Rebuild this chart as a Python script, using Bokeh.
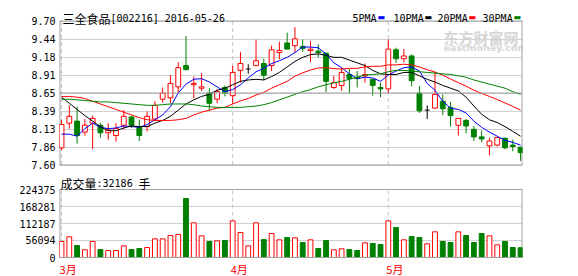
from bokeh.plotting import figure
from bokeh.layouts import column
from bokeh.models import Range1d, FixedTicker, Span, Label, ColumnDataSource
from bokeh.embed import file_html
from bokeh.resources import INLINE

# ---------------- data ----------------
stock_name = "三全食品"
stock_code = "002216"
dates = [
    "2016-03-02", "2016-03-03", "2016-03-04", "2016-03-07", "2016-03-08", "2016-03-09", "2016-03-10", "2016-03-11",
    "2016-03-14", "2016-03-15", "2016-03-16", "2016-03-17", "2016-03-18", "2016-03-21", "2016-03-22", "2016-03-23",
    "2016-03-24", "2016-03-25", "2016-03-28", "2016-03-29", "2016-03-30", "2016-03-31",
    "2016-04-01", "2016-04-05", "2016-04-06", "2016-04-07", "2016-04-08", "2016-04-11", "2016-04-12", "2016-04-13",
    "2016-04-14", "2016-04-15", "2016-04-18", "2016-04-19", "2016-04-20", "2016-04-21", "2016-04-22", "2016-04-25",
    "2016-04-26", "2016-04-27", "2016-04-28", "2016-04-29",
    "2016-05-03", "2016-05-04", "2016-05-05", "2016-05-06", "2016-05-09", "2016-05-10", "2016-05-11", "2016-05-12",
    "2016-05-13", "2016-05-16", "2016-05-17", "2016-05-18", "2016-05-19", "2016-05-20", "2016-05-23", "2016-05-24",
    "2016-05-25", "2016-05-26",
]
opens = [7.85, 8.21, 8.24, 8.08, 8.21, 8.18, 8.07, 8.03, 8.18, 8.30, 8.15, 8.16, 8.27, 8.56, 8.58, 8.74,
         9.05, 8.77, 8.72, 8.65, 8.56, 8.73, 8.61, 8.98, 9.00, 9.05, 9.08, 9.05, 9.24, 9.38,
         9.34, 9.33, 9.27, 9.26, 9.23, 8.73, 8.76, 8.92, 8.88, 8.90, 8.85, 8.73, 8.71, 9.28,
         9.15, 9.19, 8.65, 8.40, 8.43, 8.53, 8.44, 8.18, 8.25, 8.12, 8.01, 7.88, 7.89, 7.99, 7.89, 7.86]
highs = [8.26, 8.47, 8.45, 8.27, 8.32, 8.21, 8.21, 8.21, 8.40, 8.32, 8.26, 8.38, 8.53, 8.73, 8.91, 9.10,
         9.48, 8.89, 8.94, 8.72, 8.70, 8.76, 9.05, 9.25, 9.07, 9.43, 9.15, 9.34, 9.40, 9.53,
         9.61, 9.43, 9.41, 9.36, 9.24, 8.90, 9.02, 9.00, 8.97, 9.08, 8.85, 8.80, 9.43, 9.31,
         9.29, 9.21, 8.75, 8.47, 8.96, 8.63, 8.52, 8.28, 8.27, 8.17, 8.10, 8.00, 8.00, 8.00, 7.97, 7.86]
lows = [7.82, 8.13, 7.91, 8.03, 7.83, 8.00, 7.97, 7.94, 8.12, 8.14, 7.95, 8.09, 8.24, 8.51, 8.50, 8.65,
        8.99, 8.57, 8.68, 8.39, 8.50, 8.60, 8.49, 8.80, 8.93, 9.05, 8.84, 8.97, 9.14, 9.29,
        9.24, 9.25, 9.10, 9.17, 8.66, 8.71, 8.68, 8.65, 8.73, 8.80, 8.61, 8.59, 8.65, 9.09,
        9.10, 8.75, 8.36, 8.27, 8.42, 8.33, 8.16, 8.03, 8.06, 7.95, 7.93, 7.74, 7.87, 7.83, 7.80, 7.66]
closes = [8.19, 8.31, 8.03, 8.18, 8.28, 8.07, 8.11, 8.13, 8.31, 8.18, 8.03, 8.31, 8.47, 8.65, 8.79, 9.02,
          8.99, 8.79, 8.74, 8.50, 8.67, 8.65, 8.95, 9.08, 9.00, 9.12, 8.91, 9.28, 9.27, 9.29,
          9.44, 9.30, 9.29, 9.24, 8.82, 8.80, 8.95, 8.86, 8.86, 8.92, 8.76, 8.71, 9.29, 9.15,
          9.19, 8.83, 8.39, 8.40, 8.63, 8.42, 8.32, 8.28, 8.17, 8.01, 7.98, 7.95, 8.00, 7.85, 7.87, 7.78]
volumes = [52794, 68193, 39596, 25297, 52794, 26397, 23097, 23097, 38496, 26397, 29697, 32996,
           61593, 61593, 72592, 75892, 194679, 114388, 71492, 52794, 54994, 56094,
           120988, 82491, 38496, 114388, 59394, 79191, 58293, 65993, 64893, 49500, 58300, 29700,
           56000, 25300, 28600, 26400, 23100, 48400, 46200, 42900,
           121000, 99000, 58300, 69300, 66000, 45100, 84700, 52800, 49500, 84700, 72600, 49500,
           79200, 71500, 41800, 52800, 33000, 32186]
ma5 = [8.05, 8.05, 8.02, 8.13, 8.21, 8.15, 8.13, 8.14, 8.17, 8.16, 8.15, 8.19, 8.26, 8.33, 8.45, 8.65,
       8.78, 8.85, 8.86, 8.81, 8.74, 8.67, 8.70, 8.77, 8.87, 8.96, 9.01, 9.08, 9.12, 9.17,
       9.24, 9.32, 9.32, 9.31, 9.22, 9.09, 9.02, 8.93, 8.86, 8.88, 8.87, 8.82, 8.91, 8.97,
       9.02, 9.03, 8.97, 8.79, 8.69, 8.53, 8.43, 8.41, 8.36, 8.24, 8.15, 8.08, 8.02, 7.96, 7.93, 7.89]
ma10 = [8.59, 8.50, 8.41, 8.32, 8.24, 8.16, 8.10, 8.10, 8.14, 8.17, 8.16, 8.16, 8.21, 8.25, 8.31, 8.40,
        8.49, 8.55, 8.60, 8.63, 8.69, 8.72, 8.77, 8.82, 8.84, 8.85, 8.84, 8.89, 8.95, 9.03,
        9.11, 9.17, 9.21, 9.22, 9.20, 9.17, 9.17, 9.13, 9.09, 9.05, 8.98, 8.93, 8.92, 8.92,
        8.95, 8.95, 8.90, 8.85, 8.81, 8.76, 8.72, 8.68, 8.59, 8.46, 8.34, 8.26, 8.22, 8.16, 8.09, 8.02]
ma20 = [8.60, 8.60, 8.59, 8.57, 8.53, 8.49, 8.45, 8.41, 8.37, 8.33, 8.29, 8.26, 8.25, 8.25, 8.25, 8.26,
        8.28, 8.33, 8.37, 8.40, 8.43, 8.44, 8.49, 8.535, 8.57, 8.62, 8.66, 8.72, 8.77, 8.82,
        8.895, 8.945, 8.985, 9.015, 9.02, 9.005, 9.00, 9.01, 9.01, 9.03, 9.04, 9.04, 9.06, 9.06,
        9.07, 9.06, 9.03, 8.99, 8.955, 8.91, 8.855, 8.80, 8.75, 8.69, 8.645, 8.60, 8.555, 8.505, 8.455, 8.40]
ma30 = [8.56, 8.56, 8.55, 8.54, 8.53, 8.52, 8.52, 8.51, 8.50, 8.49, 8.48, 8.47, 8.47, 8.48, 8.49, 8.49,
        8.49, 8.48, 8.46, 8.45, 8.44, 8.44, 8.44, 8.44, 8.45, 8.46, 8.48, 8.51, 8.55, 8.59,
        8.63, 8.67, 8.70, 8.74, 8.77, 8.80, 8.82, 8.85, 8.88, 8.91, 8.92, 8.93, 8.96, 8.98,
        8.98, 8.97, 8.96, 8.95, 8.94, 8.93, 8.92, 8.90, 8.88, 8.84, 8.81, 8.78, 8.75, 8.72, 8.67, 8.63]
price_ticks = [7.60, 7.8625, 8.125, 8.3875, 8.65, 8.9125, 9.175, 9.4375, 9.70]
price_tick_labels = ["7.60", "7.86", "8.13", "8.39", "8.65", "8.91", "9.18", "9.44", "9.70"]
volume_ticks = [0, 56094, 112187, 168281, 224375]
volume_tick_labels = ["0", "56094", "112187", "168281", "224375"]
ma_names = ["5PMA", "10PMA", "20PMA", "30PMA"]

# ---------------- style / layout ----------------
RED = "#ff0000"
GREEN = "#008000"
MA_COLORS = ["#0000ff", "#000000", "#ff0000", "#008000"]
FRAME = "#a0a0a0"
GRID = "#d0d0d0"
DASH = "#c4c4c4"
MONO = "DejaVu Sans Mono"
CJK = "Noto Sans CJK SC"
BW = 0.62

W = 578
H1, H2 = 170, 106
# pixel rows (inside each figure) where the plotting box top / bottom lie
P_TOP, P_BOT = 20.5, 164.5
V_TOP, V_BOT = 19.0, 87.0

n = len(dates)
xs = list(range(n))
last = n - 1

x_range = Range1d(-0.26, 59.25)

p_lo, p_hi = price_ticks[0], price_ticks[-1]
kp = (p_hi - p_lo) / (P_BOT - P_TOP)
price_range = Range1d(p_lo - (H1 - P_BOT) * kp, p_hi + P_TOP * kp)
v_lo, v_hi = volume_ticks[0], volume_ticks[-1]
kv = (v_hi - v_lo) / (V_BOT - V_TOP)
vol_range = Range1d(v_lo - (H2 - V_BOT) * kv, v_hi + V_TOP * kv)


def make_fig(height, yr):
    p = figure(width=W, height=height, x_range=x_range, y_range=yr,
               output_backend="svg", toolbar_location=None, x_axis_location=None,
               min_border_left=59, min_border_right=56, min_border_top=0, min_border_bottom=0)
    p.outline_line_color = None
    p.background_fill_color = "white"
    p.border_fill_color = "white"
    return p


def style_axis(p, ticks, labels):
    ax = p.yaxis[0]
    ax.ticker = FixedTicker(ticks=ticks)
    ax.major_label_overrides = {t: l for t, l in zip(ticks, labels)}
    ax.axis_line_color = None
    ax.major_tick_line_color = None
    ax.minor_tick_line_color = None
    ax.major_tick_out = 0
    ax.major_tick_in = 0
    ax.major_label_standoff = 4
    ax.major_label_text_font = MONO
    ax.major_label_text_font_size = "10px"
    ax.major_label_text_color = "#000000"
    p.ygrid.ticker = FixedTicker(ticks=ticks)
    p.ygrid.grid_line_color = GRID
    p.xgrid.visible = False


def box(p, lo, hi, months):
    # plotting-box border and month separators
    for v in (lo, hi):
        p.add_layout(Span(location=v, dimension="width", line_color=FRAME, line_width=1))
    p.segment(x0=[x_range.start, x_range.end], y0=[lo, lo], x1=[x_range.start, x_range.end], y1=[hi, hi],
              line_color=FRAME, line_width=2)
    p.segment(x0=months, y0=[lo] * len(months), x1=months, y1=[hi] * len(months),
              line_color=DASH, line_width=1, line_dash="4 3")


def add_text(p, x, y, text, font=MONO, size="10px", color="#000000", xo=0, yo=0,
             align="left", baseline="alphabetic", style="normal", level="annotation"):
    p.add_layout(Label(x=x, y=y, text=text, text_font=font, text_font_size=size,
                       text_color=color, x_offset=xo, y_offset=yo, text_align=align,
                       text_baseline=baseline, text_font_style=style, level=level))


# month boundaries
month_starts = [i for i in xs if i == 0 or dates[i][5:7] != dates[i - 1][5:7]]
month_labels = [str(int(dates[i][5:7])) + "月" for i in month_starts]

up = [i for i in xs if closes[i] > opens[i]]
down = [i for i in xs if closes[i] < opens[i]]
flat = [i for i in xs if closes[i] == opens[i]]

# ---------------- price panel ----------------
p1 = make_fig(H1, price_range)
style_axis(p1, price_ticks, price_tick_labels)
p1.add_layout(Span(location=price_ticks[4], dimension="width", line_color=FRAME, line_width=1))
box(p1, p_lo, p_hi, month_starts)

# watermark
add_text(p1, last, p_hi, "东方财富网", font=CJK, size="15px", color="#d6d6d6", xo=-77, yo=-6,
         baseline="top", style="bold", level="underlay")
add_text(p1, last, p_hi, "eastmoney.com", font="DejaVu Sans", size="9.5px", color="#d6d6d6", xo=-77,
         yo=-21, baseline="top", style="bold", level="underlay")

for group, col in ((up, RED), (down, GREEN), (flat, "#000000")):
    src = ColumnDataSource(dict(x=group, lo=[lows[i] for i in group], hi=[highs[i] for i in group]))
    p1.segment(x0="x", y0="lo", x1="x", y1="hi", source=src, line_color=col, line_width=1)

up_src = ColumnDataSource(dict(x=up, b=[opens[i] for i in up], t=[closes[i] for i in up]))
p1.vbar(x="x", width=BW, bottom="b", top="t", source=up_src, fill_color="white", line_color=RED, line_width=1)
dn_src = ColumnDataSource(dict(x=down, b=[closes[i] for i in down], t=[opens[i] for i in down]))
p1.vbar(x="x", width=BW, bottom="b", top="t", source=dn_src, fill_color=GREEN, line_color=GREEN, line_width=1)
fl_src = ColumnDataSource(dict(x0=[i - BW / 2 for i in flat], x1=[i + BW / 2 for i in flat],
                               y=[opens[i] for i in flat]))
p1.segment(x0="x0", y0="y", x1="x1", y1="y", source=fl_src, line_color="#000000", line_width=1)

for ma, col in zip((ma5, ma10, ma20, ma30), MA_COLORS):
    p1.line(xs, ma, line_color=col, line_width=1)

# title
add_text(p1, 0, p_hi, stock_name, font=CJK, size="12px", xo=1, yo=3)
add_text(p1, 0, p_hi, "[" + stock_code + "] " + dates[-1], font=MONO, size="10px", xo=49, yo=3)

# legend (text followed by colour swatch)
legend_text_offsets = [-168, -127, -83, -38]
for name, col, xo in zip(ma_names, MA_COLORS, legend_text_offsets):
    add_text(p1, last, p_hi, name, font=MONO, size="10px", xo=xo, yo=3)
    add_text(p1, last, p_hi, "\u25ac", font="DejaVu Sans", size="8px", color=col,
             xo=xo + len(name) * 6 + 1, yo=4)

# ---------------- volume panel ----------------
p2 = make_fig(H2, vol_range)
style_axis(p2, volume_ticks, volume_tick_labels)
box(p2, v_lo, v_hi, month_starts)

vup = [i for i in xs if closes[i] >= opens[i]]
vdn = [i for i in xs if closes[i] < opens[i]]
p2.vbar(x=vup, width=BW, bottom=0, top=[volumes[i] for i in vup], fill_color="white",
        line_color=RED, line_width=1)
p2.vbar(x=vdn, width=BW, bottom=0, top=[volumes[i] for i in vdn], fill_color=GREEN,
        line_color=GREEN, line_width=1)

add_text(p2, 0, v_hi, "成交量", font=CJK, size="12px", xo=-1, yo=6)
add_text(p2, 0, v_hi, ":" + str(volumes[-1]) + " ", font=MONO, size="10px", xo=35, yo=6)
add_text(p2, 0, v_hi, "手", font=CJK, size="12px", xo=77, yo=6)

for m, lab in zip(month_starts, month_labels):
    add_text(p2, m, v_lo, lab, font=CJK, size="11px", color=RED, xo=-2, yo=-3, baseline="top")

layout = column(p1, p2, spacing=0)
open("out.html", "w").write(file_html(layout, INLINE))
